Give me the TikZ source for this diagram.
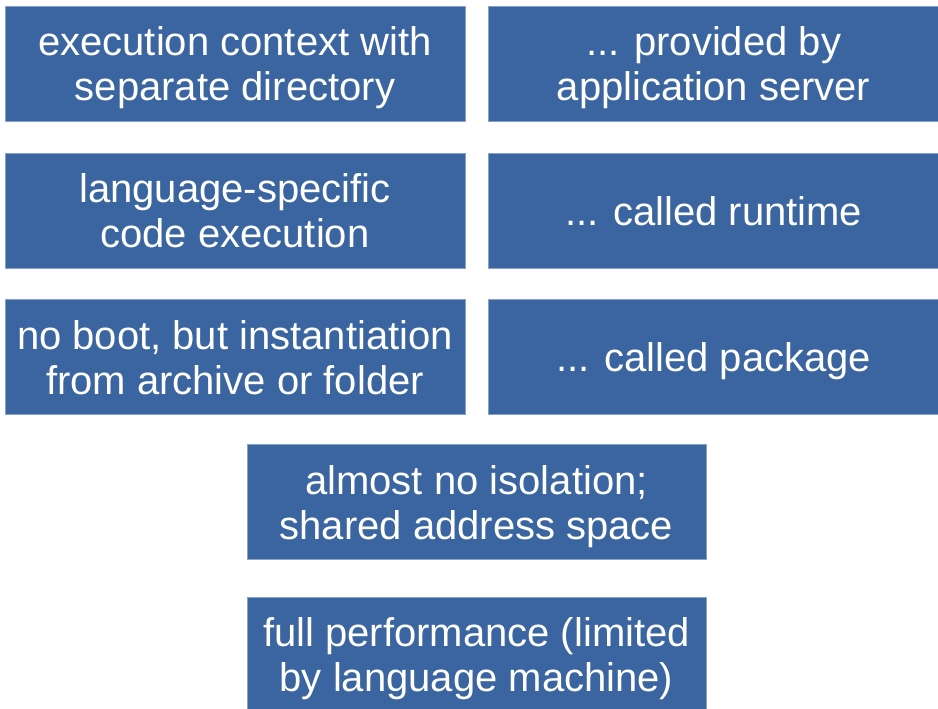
\documentclass[tikz,border=0pt]{standalone}
\usepackage{fontspec}
\setmainfont{Liberation Sans}
\usetikzlibrary{positioning}
\definecolor{boxblue}{RGB}{58,101,160}

\begin{document}
\begin{tikzpicture}[
        x=1pt, y=-1pt,
        node distance=31pt and 23pt,
        box/.style={rectangle, fill=boxblue, draw=boxblue!60!white, line width=0.6pt, text=white, inner sep=0pt, minimum width=460pt, minimum height=115pt, align=center, text height=83pt, text depth=9pt, font=\fontsize{40}{45}\selectfont},
        wide/.style={box, minimum width=450pt},
        oneline/.style={text height=38pt}
    ]
        \useasboundingbox (0,0) rectangle (938,709);
        \node[box] (context) at (235,64) {execution context with\\separate directory};
        \node[wide, right=of context] (appserver) {... provided by\\application server};
        \node[box, below=of context] (language) {language-specific\\code execution};
        \node[wide, oneline, right=of language] (runtime) {... called runtime};
        \node[box, below=of language] (noboot) {no boot, but instantiation\\from archive or folder};
        \node[wide, oneline, right=of noboot] (package) {... called package};
        \node[box, minimum width=459pt] (isolation) at (476.5,502) {almost no isolation;\\shared address space};
        \node[box, minimum width=459pt, below=37pt of isolation] (performance) {full performance (limited\\by language machine)};
    \end{tikzpicture}
\end{document}
